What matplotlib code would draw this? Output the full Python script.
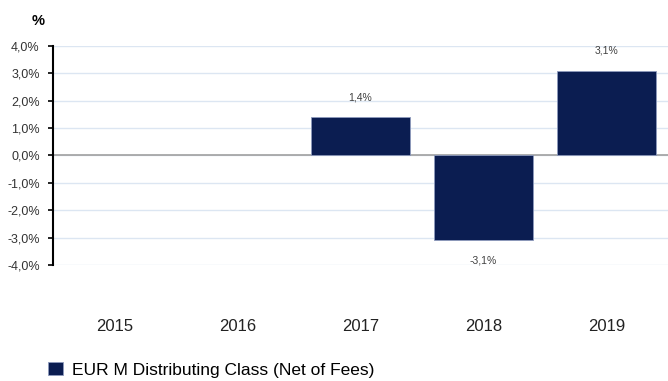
import numpy as np
import matplotlib.pyplot as plt

plt.rcParams['font.family'] = ['Liberation Sans', 'DejaVu Sans']

years = ['2015', '2016', '2017', '2018', '2019']
returns = [np.nan, np.nan, 1.4, -3.1, 3.1]
bar_labels = ['', '', '1,4%', '-3,1%', '3,1%']
yticks = [-4, -3, -2, -1, 0, 1, 2, 3, 4]
series_name = 'EUR M Distributing Class (Net of Fees)'

navy = '#0b1d51'

fig = plt.figure(figsize=(6.68, 3.81), dpi=100)
ax = fig.add_axes((0.0793, 0.3045, 0.9207, 0.5748))

x = np.arange(len(years))
bars = ax.bar(x, returns, width=0.8, color=navy, edgecolor='#8e9bbd',
              linewidth=0.6, zorder=3, label=series_name)

for xi, val, txt in zip(x, returns, bar_labels):
    if np.isnan(val):
        continue
    off = 0.72 if val > 0 else -0.72
    ax.text(xi, val + off, txt, ha='center', va='center', fontsize=7.5,
            color='#404040')

ax.set_xlim(-0.5, len(years) - 0.5)
ax.set_ylim(-4, 4)
ax.set_yticks(yticks)
ax.set_yticklabels([f'{v},0%' for v in yticks], fontsize=9, color='#333333')
ax.set_xticks(x)
ax.set_xticklabels(years, fontsize=12, color='#222222')
ax.tick_params(axis='x', length=0, pad=39)
ax.tick_params(axis='y', length=3.6, width=1.2, direction='out', pad=6)

ax.grid(axis='y', color='#dce6f2', linewidth=1, zorder=0)
ax.axhline(0, color='#a0a0a0', linewidth=1.2, zorder=2)
for side in ['top', 'right', 'bottom']:
    ax.spines[side].set_visible(False)
ax.spines['left'].set_linewidth(1.5)
ax.spines['left'].set_color('black')

fig.text(0.057, 0.945, '%', fontsize=10.5, fontweight='bold', ha='center',
         va='center')

fig.legend(handles=[bars], labels=[series_name], loc='center left',
           bbox_to_anchor=(0.0485, 0.029), frameon=False, fontsize=12.5,
           handlelength=0.86, handleheight=0.75, handletextpad=0.5)

fig.savefig('out.png', dpi=100)
